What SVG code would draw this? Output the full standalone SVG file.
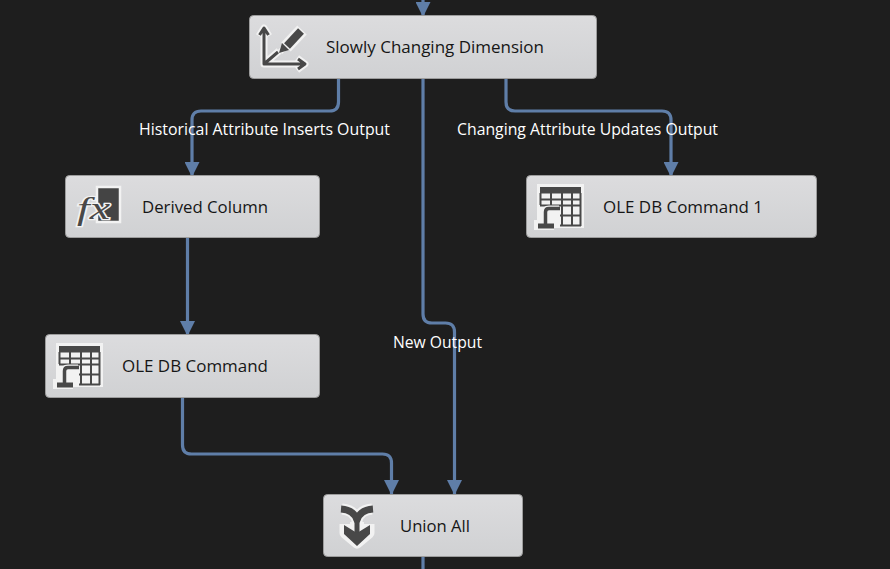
<svg xmlns="http://www.w3.org/2000/svg" width="890" height="569" viewBox="0 0 890 569">
<defs>
<linearGradient id="g" x1="0" y1="0" x2="0" y2="1"><stop offset="0" stop-color="#dcdcde"/><stop offset="1" stop-color="#d0d1d3"/></linearGradient>
<marker id="a" markerUnits="userSpaceOnUse" markerWidth="16" markerHeight="15" refX="14" refY="7.500" orient="auto"><path d="M0 0L15 7.500L0 15z" fill="#5f7ea8"/></marker>
</defs>
<style>
.c{fill:none;stroke:#5f7ea8;stroke-width:3.200}
.n{fill:url(#g);stroke:#9c9c9c;stroke-width:1}
.t{font-family:"Open Sans","Noto Sans",sans-serif;font-size:16.500px;fill:#161616}
.l{font-family:"Open Sans","Noto Sans",sans-serif;font-size:16.500px;fill:#fff}
.w{fill:none;stroke:#f2f2f2;stroke-linejoin:round}
.d{fill:none;stroke:#484848;stroke-linejoin:round}
</style>
<rect width="890" height="569" fill="#1e1e1e"/>
<g id="connectors">
<path class="c" marker-end="url(#a)" d="M423 0V16"/>
<path class="c" marker-end="url(#a)" d="M338.500 79V102Q338.500 111 329.500 111H201Q192 111 192 120V176"/>
<path class="c" marker-end="url(#a)" d="M506 79V102Q506 111 515 111H662Q671 111 671 120V176"/>
<path class="c" marker-end="url(#a)" d="M187.500 238V335"/>
<path class="c" marker-end="url(#a)" d="M423 79V314Q423 323 432 323H445.500Q454.500 323 454.500 332V494"/>
<path class="c" marker-end="url(#a)" d="M182.500 398V445Q182.500 454 191.500 454H382.500Q391.500 454 391.500 463V494"/>
<path class="c" d="M423 557V569"/>
</g>
<g id="slowly-changing-dimension">
<rect class="n" x="249.500" y="15.500" width="347" height="63" rx="4"/>
<path class="w" stroke-width="7" d="M264 28V64H304M259 36L264 28L269 36M297 58L305 64L297 70M264 64L279 51"/>
<path class="w" stroke-width="13" d="M286 47L302 30"/>
<path class="w" stroke-width="6" d="M280 52L286 46"/>
<path class="d" stroke-width="3" d="M264 28V64H304M259.500 35L264 28L268.500 35M298 59L305 64L298 69M264 64L278 52"/>
<path class="d" stroke-width="8" d="M287 46L301 31"/>
<path fill="#484848" d="M279 53L282 43L289 50z"/>
<text class="t" x="326" y="53" textLength="218" lengthAdjust="spacingAndGlyphs">Slowly Changing Dimension</text>
</g>
<g id="derived-column">
<rect class="n" x="65.500" y="175.500" width="254" height="62" rx="4"/>
<rect x="97" y="187" width="23" height="35" fill="#444" stroke="#f2f2f2" stroke-width="2.500"/>
<text x="77" y="219" font-family="Liberation Serif,serif" font-style="italic" font-size="31" fill="#484848" stroke="#f2f2f2" stroke-width="2.500" paint-order="stroke" textLength="33" lengthAdjust="spacingAndGlyphs">fx</text>
<text class="t" x="142" y="213" textLength="126" lengthAdjust="spacingAndGlyphs">Derived Column</text>
</g>
<g id="ole-db-command-1">
<rect class="n" x="526.500" y="175.500" width="290" height="62" rx="4"/>
<use href="#oleicon" x="481" y="-159"/>
<text class="t" x="603" y="213" textLength="160" lengthAdjust="spacingAndGlyphs">OLE DB Command 1</text>
</g>
<g id="ole-db-command">
<rect class="n" x="45.500" y="334.500" width="274" height="63" rx="4"/>
<g id="oleicon">
<path d="M56 343H103V387H73V389H53V379H56z" fill="#f2f2f2"/>
<rect x="59" y="346" width="41" height="6.500" fill="#484848"/>
<path d="M59.500 352V364M70 352V364M81 352V385M91 352V385M99.500 352V385M59 358.500H100M59 364.500H100M79 374.500H100M79 384.500H100" fill="none" stroke="#484848" stroke-width="2"/>
<path class="w" stroke-width="7" d="M78 368H68Q64 368 64 372V382"/>
<path class="d" stroke-width="3.500" d="M79 367.500H68Q64.500 367.500 64.500 371V383"/>
<path class="d" stroke-width="5" d="M57 385H73"/>
</g>
<text class="t" x="122" y="372" textLength="146" lengthAdjust="spacingAndGlyphs">OLE DB Command</text>
</g>
<g id="union-all">
<rect class="n" x="323.500" y="494.500" width="199" height="62" rx="4"/>
<path class="w" stroke-width="11" d="M342 509Q354 510 357 520Q360 510 372 509M357 516V535M345 524V533L357 543L369 533V524"/>
<path class="d" stroke-width="7" d="M341 509Q354 510 357 520Q360 510 373 509"/>
<path class="d" stroke-width="5" d="M357 516V535"/>
<path class="w" stroke-width="2" d="M351 522V531M363 522V531"/>
<path fill="#484848" d="M344 525L357 533L370 525V534L357 546L344 534z"/>
<text class="t" x="400" y="532" textLength="70" lengthAdjust="spacingAndGlyphs">Union All</text>
</g>
<g id="labels">
<text class="l" x="139" y="135" textLength="251" lengthAdjust="spacingAndGlyphs">Historical Attribute Inserts Output</text>
<text class="l" x="457" y="135" textLength="261" lengthAdjust="spacingAndGlyphs">Changing Attribute Updates Output</text>
<text class="l" x="393" y="348" textLength="89" lengthAdjust="spacingAndGlyphs">New Output</text>
</g>
</svg>
